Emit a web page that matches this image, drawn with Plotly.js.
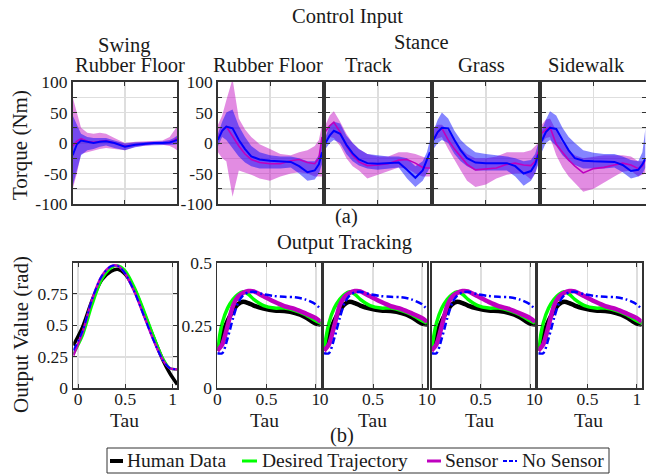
<!DOCTYPE html>
<html>
<head>
<meta charset="utf-8">
<script src="https://cdn.plot.ly/plotly-3.0.1.min.js"></script>
<style>html,body{margin:0;padding:0;background:#fff;}#chart{width:646px;height:474px;}</style>
</head>
<body>
<div id="chart"></div>
<script>
// ---------------- DATA ----------------
// Control input (torque, Nm) vs tau; sensor = magenta, no sensor = blue
const TAU = [0, 0.04, 0.08, 0.14, 0.2, 0.26, 0.32, 0.4, 0.5, 0.6, 0.7, 0.78, 0.86, 0.93, 0.97, 1];

const swingSensorMean   = [-5, 3, 7, 3, 1, 3, 4, 0, -5, -3, -1, 0, 0, 1, 4, 8];
const swingSensorHi     = [75, 50, 25, 17, 15, 17, 15, 8, 0, 2, 3, 3, 4, 10, 20, 27];
const swingSensorLo     = [-75, -50, -18, -15, -12, -10, -8, -10, -12, -6, -4, -3, -3, -5, -8, -12];
const swingNoSensorMean = [-20, -2, 4, 2, 0, 2, 3, 0, -6, -3, -1, 0, 0, 1, 3, 5];
const swingNoSensorHi   = [45, 30, 15, 10, 8, 8, 8, 4, -1, 1, 2, 2, 3, 5, 8, 12];
const swingNoSensorLo   = [-70, -45, -20, -12, -10, -6, -4, -8, -12, -7, -4, -3, -3, -3, -3, -2];

const rubberSensorMean   = [8, 20, 27, 10, -5, -18, -27, -32, -34, -34, -29, -27, -32, -34, -25, 10];
const rubberSensorHi     = [30, 45, 70, 105, 40, 22, 10, -2, -10, -18, -20, -15, -12, -5, 5, 30];
const rubberSensorLo     = [-15, -25, -30, -88, -45, -48, -52, -58, -62, -55, -50, -48, -50, -55, -55, -55];
const rubberNoSensorMean = [5, 20, 27, 24, 5, -10, -22, -27, -29, -30, -31, -38, -48, -45, -35, -15];
const rubberNoSensorHi   = [15, 35, 50, 55, 28, 10, -5, -15, -20, -22, -22, -25, -30, -30, -20, 5];
const rubberNoSensorLo   = [-5, 10, 5, -8, -22, -32, -38, -42, -42, -42, -40, -50, -62, -60, -50, -35];

const trackSensorMean   = [19, 28, 34, 18, -5, -20, -31, -37, -36, -34, -28, -27, -33, -40, -41, -41];
const trackSensorHi     = [30, 45, 52, 35, 15, 0, -10, -18, -22, -22, -15, -15, -18, -22, -25, -25];
const trackSensorLo     = [5, 10, 8, -5, -25, -38, -45, -58, -52, -46, -40, -42, -50, -55, -55, -55];
const trackNoSensorMean = [0, 12, 20, 15, -3, -17, -27, -33, -34, -33, -32, -44, -57, -45, -28, -15];
const trackNoSensorHi   = [10, 28, 35, 32, 12, 0, -10, -18, -20, -22, -22, -25, -38, -30, -15, 5];
const trackNoSensorLo   = [-10, 0, 5, 0, -18, -30, -37, -42, -44, -42, -40, -58, -72, -62, -50, -40];

const grassSensorMean   = [5, 18, 24, 5, -10, -22, -35, -44, -43, -41, -35, -33, -36, -37, -30, -14];
const grassSensorHi     = [25, 30, 30, 20, 5, -8, -18, -25, -25, -22, -15, -15, -15, -12, -5, 0];
const grassSensorLo     = [5, 8, 10, -10, -28, -45, -62, -72, -68, -58, -52, -50, -50, -60, -50, -30];
const grassNoSensorMean = [5, 18, 25, 24, 5, -12, -25, -32, -33, -33, -33, -38, -50, -46, -35, -19];
const grassNoSensorHi   = [20, 38, 50, 40, 20, 5, -5, -15, -18, -20, -22, -25, -30, -28, -18, 0];
const grassNoSensorLo   = [-10, 0, 5, 0, -18, -30, -38, -45, -46, -45, -45, -55, -70, -62, -50, -35];

const sidewalkSensorMean   = [16, 22, 26, -2, -15, -28, -38, -49, -42, -40, -36, -33, -36, -42, -38, -28];
const sidewalkSensorHi     = [30, 38, 40, 20, 0, -12, -20, -25, -22, -20, -20, -20, -22, -30, -30, -25];
const sidewalkSensorLo     = [0, 8, 10, -20, -40, -55, -65, -80, -75, -65, -55, -47, -45, -55, -52, -50];
const sidewalkNoSensorMean = [3, 18, 25, 23, 5, -12, -25, -29, -30, -30, -31, -36, -46, -44, -35, -25];
const sidewalkNoSensorHi   = [20, 38, 52, 45, 25, 10, 0, -12, -16, -18, -18, -22, -28, -30, -15, 25];
const sidewalkNoSensorLo   = [-15, 0, 5, -5, -20, -30, -36, -42, -42, -42, -40, -48, -58, -55, -50, -40];

// Output tracking (rad) vs tau
const TAU_SWING = [-0.05, 0.05, 0.15, 0.25, 0.35, 0.42, 0.5, 0.6, 0.7, 0.8, 0.9, 0.97, 1.05];
const swingHuman    = [0.34, 0.49, 0.70, 0.86, 0.93, 0.945, 0.905, 0.78, 0.59, 0.40, 0.22, 0.12, 0.03];
const swingDesired  = [0.27, 0.42, 0.66, 0.86, 0.955, 0.975, 0.935, 0.80, 0.615, 0.415, 0.235, 0.16, 0.15];
const swingSensor   = [0.26, 0.45, 0.71, 0.89, 0.97, 0.972, 0.91, 0.76, 0.57, 0.38, 0.22, 0.16, 0.15];
const swingNoSensor = [0.30, 0.46, 0.71, 0.89, 0.97, 0.972, 0.91, 0.76, 0.57, 0.38, 0.22, 0.16, 0.15];

const TAU_STANCE = [0, 0.05, 0.105, 0.16, 0.21, 0.26, 0.315, 0.37, 0.47, 0.58, 0.68, 0.79, 0.89, 1.0, 1.05];
const stanceHuman    = [0.15, 0.215, 0.27, 0.31, 0.335, 0.345, 0.34, 0.33, 0.318, 0.31, 0.308, 0.30, 0.285, 0.258, 0.255];
const stanceDesired  = [0.155, 0.26, 0.32, 0.355, 0.375, 0.385, 0.375, 0.355, 0.33, 0.32, 0.32, 0.31, 0.295, 0.27, 0.26];
const stanceSensor   = [0.15, 0.175, 0.25, 0.33, 0.365, 0.38, 0.388, 0.387, 0.367, 0.345, 0.328, 0.316, 0.30, 0.28, 0.265];
const stanceNoSensor = [0.14, 0.14, 0.2, 0.28, 0.34, 0.37, 0.383, 0.385, 0.375, 0.368, 0.365, 0.363, 0.355, 0.335, 0.315];

const topTitles = ["Rubber Floor", "Rubber Floor", "Track", "Grass", "Sidewalk"];
const legendNames = ["Human Data", "Desired Trajectory", "Sensor", "No Sensor"];
const torqueTicks = [-100, -75, -50, -25, 0, 25, 50, 75, 100];
const torqueTickText = ["-100", "", "-50", "", "0", "", "50", "", "100"];

// ---------------- STYLE ----------------
const W = 646, H = 474;
const FONT = "Liberation Serif";
const INK = "#1a1a1a";
const FRAME = "#333333";
const GRID = "#dedede";
const BLUE = "#0000ff", MAG = "#bf00bf", GREEN = "#00ff00", BLACK = "#000000";
const BLUE_FILL = "rgba(0,0,255,0.48)", MAG_FILL = "rgba(191,0,191,0.45)";

const px = v => v / W;
const py = v => 1 - v / H;

const topX = [[72.7, 177], [218, 322], [325.5, 430], [433.5, 538.3], [541.7, 645.5]];
const botX = [[73.3, 177.3], [217.3, 320.7], [324, 427], [431.5, 535], [538.3, 641.7]];
const topY = [82, 204], botY = [263, 388.3];

const topSets = [
  [swingSensorMean, swingSensorHi, swingSensorLo, swingNoSensorMean, swingNoSensorHi, swingNoSensorLo],
  [rubberSensorMean, rubberSensorHi, rubberSensorLo, rubberNoSensorMean, rubberNoSensorHi, rubberNoSensorLo],
  [trackSensorMean, trackSensorHi, trackSensorLo, trackNoSensorMean, trackNoSensorHi, trackNoSensorLo],
  [grassSensorMean, grassSensorHi, grassSensorLo, grassNoSensorMean, grassNoSensorHi, grassNoSensorLo],
  [sidewalkSensorMean, sidewalkSensorHi, sidewalkSensorLo, sidewalkNoSensorMean, sidewalkNoSensorHi, sidewalkNoSensorLo]
];

const traces = [];
function band(x, hi, lo, color, xa, ya) {
  return {x: x.concat(x.slice().reverse()), y: hi.concat(lo.slice().reverse()),
    type: "scatter", mode: "lines", fill: "toself", fillcolor: color,
    line: {width: 0, color: color}, hoverinfo: "skip", showlegend: false, xaxis: xa, yaxis: ya};
}
topSets.forEach((s, i) => {
  const xa = "x" + (i + 1), ya = "y" + (i + 1);
  traces.push(band(TAU, s[1], s[2], MAG_FILL, xa, ya));
  traces.push(band(TAU, s[4], s[5], BLUE_FILL, xa, ya));
  traces.push({x: TAU, y: s[0], type: "scatter", mode: "lines", line: {color: MAG, width: 1.6}, showlegend: false, xaxis: xa, yaxis: ya});
  traces.push({x: TAU, y: s[3], type: "scatter", mode: "lines", line: {color: BLUE, width: 2}, showlegend: false, xaxis: xa, yaxis: ya});
});

for (let i = 0; i < 5; i++) {
  const xa = "x" + (i + 6), ya = "y" + (i + 6);
  const sw = i === 0;
  const t = sw ? TAU_SWING : TAU_STANCE;
  const d = sw ? [swingHuman, swingDesired, swingSensor, swingNoSensor] : [stanceHuman, stanceDesired, stanceSensor, stanceNoSensor];
  const widths = sw ? [3.5, 2.5, 2.5, 2] : [4.5, 3.5, 4.5, 2.5];
  const cols = [BLACK, GREEN, MAG, BLUE];
  d.forEach((arr, k) => {
    traces.push({x: t, y: arr, type: "scatter", mode: "lines", name: legendNames[k],
      line: {color: cols[k], width: widths[k], shape: "spline", smoothing: 0.8, dash: k === 3 ? "7px,3px,2px,3px" : "solid"},
      showlegend: false, xaxis: xa, yaxis: ya});
  });
}

const layout = {
  width: W, height: H, margin: {l: 0, r: 0, t: 0, b: 0},
  paper_bgcolor: "#fff", plot_bgcolor: "#fff", showlegend: false,
  font: {family: FONT, color: INK, size: 17},
  annotations: [], shapes: []
};
const axBase = {showline: true, mirror: "ticks", linecolor: FRAME, linewidth: 1.8, ticks: "inside", ticklen: 4,
  tickcolor: FRAME, tickwidth: 1, showgrid: true, gridcolor: GRID, gridwidth: 1.5, zeroline: false,
  fixedrange: true, tickfont: {family: FONT, size: 17.5, color: INK}};

for (let i = 0; i < 5; i++) {
  const n = i + 1;
  layout["xaxis" + n] = Object.assign({}, axBase, {domain: [px(topX[i][0]), px(topX[i][1])], anchor: "y" + n,
    range: [0, 1], tickvals: [0, 0.5, 1], showticklabels: false});
  layout["yaxis" + n] = Object.assign({}, axBase, {domain: [py(topY[1]), py(topY[0])], anchor: "x" + n,
    range: [-100, 100], tickvals: torqueTicks, ticktext: torqueTickText, showticklabels: i < 2});
  const m = i + 6;
  layout["xaxis" + m] = Object.assign({}, axBase, {domain: [px(botX[i][0]), px(botX[i][1])], anchor: "y" + m,
    range: i === 0 ? [-0.05, 1.05] : [0, 1.05], tickvals: [0, 0.5, 1], ticktext: ["0", "0.5", "1"],
    ticklabelstandoff: -6});
  layout["yaxis" + m] = Object.assign({}, axBase, {domain: [py(botY[1]), py(botY[0])], anchor: "x" + m,
    range: i === 0 ? [0, 0.995] : [0, 0.5],
    tickvals: i === 0 ? [0, 0.25, 0.5, 0.75] : [0, 0.25, 0.5],
    ticktext: i === 0 ? ["0", "0.25", "0.5", "0.75"] : ["0", "0.25", "0.5"],
    showticklabels: i < 2});
}

function ann(text, x, y, size, opts) {
  layout.annotations.push(Object.assign({text: text, x: px(x), y: py(y), xref: "paper", yref: "paper",
    showarrow: false, xanchor: "center", yanchor: "middle", font: {family: FONT, size: size, color: INK}}, opts || {}));
}
const TS = 20.5;
ann("Control Input", 347, 16, TS);
ann("Swing", 124, 45, TS);
ann("Stance", 421, 42, TS);
const titleX = [130, 268, 369, 481, 586];
topTitles.forEach((t, i) => ann(t, titleX[i], 65, TS));
ann("(a)", 346, 216, TS);
ann("Output Tracking", 345, 242, TS);
ann("(b)", 342, 435, TS);
[124, 264, 372, 479, 588].forEach(x => ann("Tau", x, 420, 19.5));
ann("Torque (Nm)", 20, 145, 21, {textangle: -90});
ann("Output Value (rad)", 21, 335, 21, {textangle: -90});

// legend box
layout.shapes.push({type: "rect", xref: "paper", yref: "paper", x0: px(107), x1: px(609), y0: py(473), y1: py(448),
  line: {color: FRAME, width: 1}, fillcolor: "rgba(255,255,255,0)"});
const legItems = [[110, 123, 125, BLACK, 4, "solid"], [242, 257, 260, GREEN, 3, "solid"],
  [427, 441, 443, MAG, 3, "solid"], [503, 517, 520, BLUE, 2, "4px,2px"]];
legItems.forEach((it, k) => {
  layout.shapes.push({type: "line", xref: "paper", yref: "paper", x0: px(it[0]), x1: px(it[1]), y0: py(461), y1: py(461),
    line: {color: it[3], width: it[4], dash: it[5]}});
  ann(legendNames[k], it[2], 460, 19.5, {xanchor: "left"});
});

Plotly.newPlot("chart", traces, layout, {staticPlot: true, displayModeBar: false});
</script>
</body>
</html>
